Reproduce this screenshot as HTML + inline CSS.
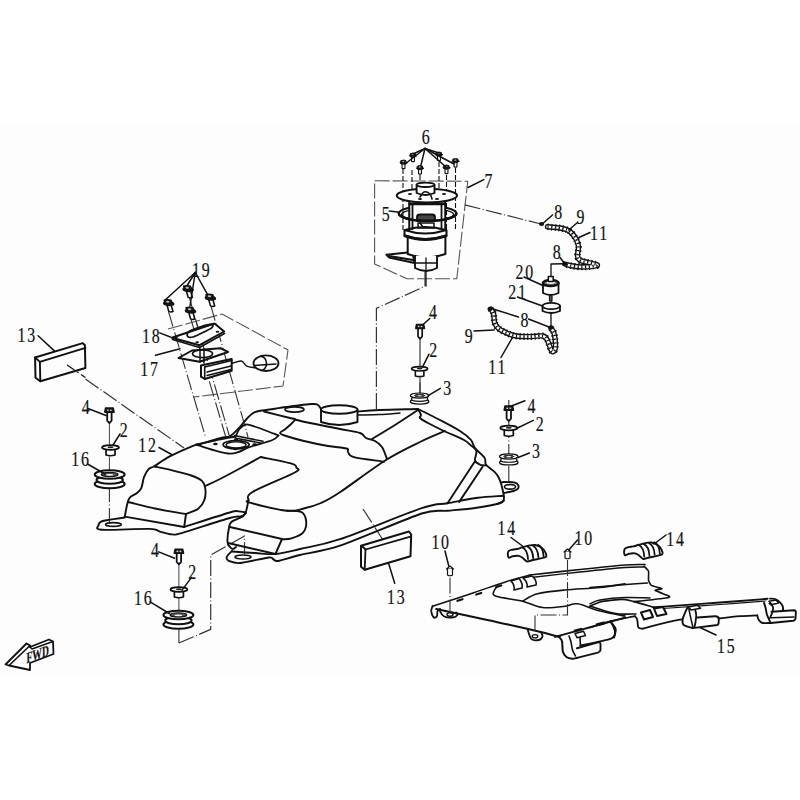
<!DOCTYPE html><html><head><meta charset="utf-8"><style>html,body{margin:0;padding:0;background:#fff;}svg{display:block;}text{font-family:"Liberation Serif",serif;fill:#111;stroke:#111;stroke-width:0.2px;}</style></head><body>
<svg width="800" height="800" viewBox="0 0 800 800">
<rect width="800" height="800" fill="#fff"/>
<rect x="0" y="125.5" width="800" height="548.5" fill="#fdfdfd"/>
<g fill="none" stroke="#111" stroke-linecap="round" stroke-linejoin="round">
<path d="M85.4,379 L184,448" stroke-width="1.2" stroke-dasharray="16 2.5 1 2.5" stroke-linecap="butt" stroke="#333"/>
<path d="M363,509 L383,540" stroke-width="1.2" stroke-dasharray="16 2.5 1 2.5" stroke-linecap="butt" stroke="#333"/>
<path d="M109.4,423 L109.4,445" stroke-width="1.0" stroke="#444"/>
<path d="M109.4,457 L109.4,470" stroke-width="1.0" stroke="#444"/>
<path d="M109.4,486 L109.4,522" stroke-width="1.1" stroke-dasharray="16 2.5 1 2.5" stroke-linecap="butt" stroke="#333"/>
<path d="M178.9,564.6 L178.9,587" stroke-width="1.0" stroke="#444"/>
<path d="M178.9,598.6 L178.9,611" stroke-width="1.0" stroke="#444"/>
<path d="M178.9,628 L178.9,643" stroke-width="1.1" stroke-dasharray="16 2.5 1 2.5" stroke-linecap="butt" stroke="#333"/>
<path d="M178.9,643 L210.7,629.4 L210.7,555 L244.5,536 L244.5,554" stroke-width="1.2" stroke-dasharray="16 2.5 1 2.5" stroke-linecap="butt" stroke="#333"/>
<path d="M508.8,400 L508.8,486" stroke-width="1.1" stroke-dasharray="16 2.5 1 2.5" stroke-linecap="butt" stroke="#333"/>
<path d="M376.4,409 L376.4,308.4 L425,286.2 L425,272" stroke-width="1.2" stroke-dasharray="16 2.5 1 2.5" stroke-linecap="butt" stroke="#333"/>
<path d="M420,383 L420,395" stroke-width="1.0" stroke="#444"/>
<path d="M374.6,180.8 L467.75,181.25 L456.8,278.7 L407,278.7 L374.6,264 L374.6,180.8" stroke-width="1.1" stroke-dasharray="15 3" stroke-linecap="butt" stroke="#555"/>
<path d="M464.75,204.9 L541,224" stroke-width="1.2" stroke-dasharray="16 2.5 1 2.5" stroke-linecap="butt" stroke="#333"/>
<path d="M168,329 L222,314 L288,350 L283,386 L194,397" stroke-width="1.1" stroke-dasharray="15 3" stroke-linecap="butt" stroke="#555"/>
<path d="M168.4,311.25 L205.8,438" stroke-width="1.1" stroke-dasharray="16 2.5 1 2.5" stroke-linecap="butt" stroke="#333"/>
<path d="M189.5,297.8 L200,335" stroke-width="1.1" stroke-dasharray="16 2.5 1 2.5" stroke-linecap="butt" stroke="#333"/>
<path d="M190.6,318 L225.5,436" stroke-width="1.1" stroke-dasharray="16 2.5 1 2.5" stroke-linecap="butt" stroke="#333"/>
<path d="M196,321 L230,438" stroke-width="1.1" stroke-dasharray="16 2.5 1 2.5" stroke-linecap="butt" stroke="#333"/>
<path d="M210.7,305.2 L248,437" stroke-width="1.1" stroke-dasharray="16 2.5 1 2.5" stroke-linecap="butt" stroke="#333"/>
<path d="M124.8,516.6 C125.2,514.4 126.5,506.7 127.4,503.5 C128.3,500.3 128.4,499.1 130.0,497.4 C131.6,495.6 135.1,494.6 137.0,493.0 C138.9,491.4 140.2,490.4 141.4,487.8 C142.6,485.1 142.8,480.3 144.0,477.2 C145.2,474.2 146.7,471.3 148.4,469.4 C150.2,467.5 150.9,468.2 154.5,466.0 C158.1,463.8 163.8,459.6 170.2,456.2 C176.7,452.9 188.0,447.8 193.0,445.8 C198.0,443.7 198.8,444.3 200.0,444.0" stroke-width="1.9" fill="none"/>
<path d="M154.5,466.5 C156.8,467.0 162.4,467.9 168.5,469.4 C174.6,470.9 185.7,473.6 191.2,475.5 C196.8,477.4 199.4,478.7 201.8,480.8 C204.1,482.8 204.8,484.5 205.2,487.8 C205.7,491.0 205.6,496.5 204.4,500.0 C203.2,503.5 201.3,506.4 198.2,508.8 C195.2,511.1 188.0,513.1 186.0,514.0" stroke-width="1.9" fill="none"/>
<path d="M128.0,502.0 C132.7,503.1 146.6,506.8 156.2,508.8 C165.9,510.8 181.0,513.1 186.0,514.0" stroke-width="1.9" fill="none"/>
<path d="M124.75,516.6 L184.2,527" stroke-width="1.9"/>
<path d="M186,514 L184.2,527" stroke-width="1.9"/>
<path d="M205.2,486.0 C207.7,484.8 213.5,482.3 220.0,479.0 C226.5,475.7 237.6,469.7 244.4,466.0 C251.2,462.3 258.0,458.5 260.7,457.0" stroke-width="1.9" fill="none"/>
<path d="M124.8,517.5 C121.1,518.1 107.3,519.7 102.9,521.0 C98.5,522.3 98.7,523.9 98.5,525.4 C98.3,526.9 93.5,529.2 102.0,529.8 C110.5,530.3 139.6,528.6 149.2,528.9 C158.9,529.2 156.2,530.7 160.0,531.6 C163.8,532.5 168.2,534.2 172.0,534.4 C175.8,534.6 172.9,535.5 182.5,532.8 C192.1,530.0 220.0,520.7 229.8,518.0 C239.5,515.3 238.3,517.2 241.0,516.4 C243.7,515.6 245.2,513.6 246.0,513.0" stroke-width="1.9" fill="none"/>
<ellipse cx="113.4" cy="524.5" rx="7.9" ry="1.9" stroke-width="1.6"/>
<path d="M184.2,527.0 C191.8,524.6 220.7,515.1 229.8,512.5 C238.8,509.9 236.1,511.4 238.8,511.4 C241.4,511.4 244.4,512.3 245.5,512.5" stroke-width="1.9" fill="none"/>
<path d="M260.7,457.0 C265.8,458.1 285.6,461.8 291.5,463.6 C297.4,465.4 295.8,466.1 296.4,467.6 C296.9,469.1 302.1,468.4 294.8,472.5 C287.5,476.6 260.2,487.4 252.5,492.0 C244.8,496.6 248.9,498.2 248.5,500.0 C248.1,501.8 243.6,500.8 250.0,502.6 C256.4,504.4 277.6,509.8 286.7,510.7 C295.8,511.6 298.8,509.6 304.5,508.3 C310.2,507.0 315.0,505.7 321.0,503.0 C327.0,500.3 329.5,499.2 340.3,492.0 C351.1,484.8 372.7,468.3 386.0,460.0 C399.3,451.7 410.2,446.8 420.0,442.0 C429.8,437.2 440.8,432.8 445.0,431.0" stroke-width="1.9" fill="none"/>
<path d="M248.5,500.0 C248.1,501.9 246.9,508.8 246.0,511.5 C245.1,514.2 245.2,514.6 242.8,516.4 C240.4,518.1 233.7,520.1 231.4,522.0 C229.1,523.9 229.7,524.5 229.0,527.8 C228.3,531.1 227.3,538.8 227.5,542.0 C227.7,545.2 229.1,545.8 230.0,547.0 C230.9,548.2 232.0,549.0 233.0,549.0 C234.0,549.0 235.5,547.3 236.0,547.0" stroke-width="1.9" fill="none"/>
<path d="M232.0,551.0 C231.5,551.5 228.7,554.1 228.0,555.0 C227.3,555.9 226.4,557.2 226.5,558.0 C226.6,558.8 227.2,560.3 229.0,561.0 C230.8,561.7 234.7,563.5 240.0,563.0 C245.3,562.5 264.6,558.0 269.0,557.5 C273.4,557.0 271.8,558.5 273.0,559.0 C274.2,559.5 274.4,561.5 278.0,561.0 C281.6,560.5 291.7,557.0 300.0,555.0 C308.3,553.0 323.8,551.2 340.0,545.7 C356.2,540.2 407.4,518.2 421.7,513.5 C436.0,508.8 440.4,511.5 447.5,510.8 C454.6,510.1 468.4,508.9 475.0,508.0 C481.6,507.1 493.1,505.0 497.0,504.0 C500.9,503.0 503.1,501.0 504.0,500.5" stroke-width="1.9" fill="none"/>
<path d="M229.8,527 L282,539 L275.5,554" stroke-width="1.9"/>
<path d="M228,543 L275.5,554" stroke-width="1.9"/>
<path d="M286.7,510.7 C289.1,510.9 298.1,510.2 301.3,512.0 C304.6,513.8 305.9,517.8 306.2,521.3 C306.5,524.8 305.4,529.9 303.0,532.7 C300.6,535.6 294.9,537.3 291.5,538.4 C288.1,539.5 284.1,539.1 282.6,539.2" stroke-width="1.9" fill="none"/>
<ellipse cx="243" cy="557" rx="8" ry="2" stroke-width="1.6"/>
<path d="M232.0,551.5 C235.8,551.8 247.8,552.6 255.0,553.0 C262.2,553.4 268.0,554.7 275.5,554.0 C283.0,553.3 289.2,551.5 300.0,549.0 C310.8,546.5 319.7,546.0 340.0,539.2 C360.3,532.4 403.8,514.2 421.7,508.2 C439.6,502.2 438.1,505.0 447.5,503.3 C456.9,501.6 468.5,499.1 477.8,497.8 C487.1,496.5 499.0,496.1 503.2,495.7" stroke-width="1.9" fill="none"/>
<path d="M200.0,444.0 C203.8,442.9 217.8,438.8 222.8,437.5 C227.8,436.2 227.3,437.9 230.0,436.3 C232.7,434.7 236.4,430.6 239.0,427.9 C241.6,425.2 243.1,422.6 245.8,420.0 C248.4,417.4 249.9,414.0 254.8,412.1 C259.6,410.2 269.8,409.6 275.0,408.8 C280.2,407.9 279.8,407.8 286.0,407.0 C292.2,406.2 306.7,404.3 312.0,404.0 C317.3,403.7 316.5,404.2 318.0,405.0 C319.5,405.8 320.5,408.3 321.0,409.0" stroke-width="1.9" fill="none"/>
<ellipse cx="294.5" cy="409.5" rx="9.5" ry="2.6" stroke-width="1.7"/>
<path d="M321,409.5 L321,422 Q339,428 357.5,422 L357.5,409.5" stroke-width="1.9" fill="#fdfdfd"/>
<ellipse cx="339.2" cy="409.5" rx="18.2" ry="4.2" stroke-width="1.9" fill="#fdfdfd"/>
<path d="M357.5,411.5 C361.2,411.2 369.9,410.4 380.0,410.0 C390.1,409.6 411.7,409.2 418.0,409.0" stroke-width="1.9" fill="none"/>
<path d="M357.5,415.0 C361.2,414.9 372.9,414.8 380.0,414.5 C387.1,414.2 396.7,413.2 400.0,413.0" stroke-width="1.5" fill="none"/>
<path d="M264.0,411.5 C268.3,412.6 284.8,416.7 290.0,418.0 C295.2,419.3 295.0,418.3 295.0,419.5 C295.0,420.7 291.8,423.2 290.0,425.0 C288.2,426.8 285.7,428.7 284.0,430.0 C282.3,431.3 279.7,432.0 280.0,433.0 C280.3,434.0 282.0,434.7 286.0,436.0 C290.0,437.3 297.0,439.3 304.0,441.0 C311.0,442.7 320.9,444.8 328.0,446.0 C335.1,447.2 343.2,447.5 346.5,448.5 C349.8,449.5 346.8,450.6 348.0,452.0 C349.2,453.4 348.0,455.6 354.0,457.2 C360.0,458.8 379.0,460.9 384.0,461.7" stroke-width="1.9" fill="none"/>
<path d="M295.0,419.5 C297.5,420.1 302.5,421.4 310.0,423.0 C317.5,424.6 331.7,427.3 340.0,429.0 C348.3,430.7 355.7,431.5 360.0,433.0 C364.3,434.5 363.5,436.7 366.0,438.0 C368.5,439.3 372.3,439.5 375.0,441.0 C377.7,442.5 380.0,444.0 382.0,447.0 C384.0,450.0 386.2,457.0 387.0,459.0" stroke-width="1.9" fill="none"/>
<path d="M418.0,410.0 C414.2,412.5 402.7,420.2 395.0,425.0 C387.3,429.8 375.8,436.7 372.0,439.0" stroke-width="1.9" fill="none"/>
<path d="M418.0,409.0 C421.3,410.7 431.0,415.3 438.0,419.0 C445.0,422.7 454.5,427.5 460.0,431.0 C465.5,434.5 468.5,437.1 471.0,440.0 C473.5,442.9 472.7,445.3 475.0,448.2 C477.3,451.2 482.8,455.1 484.6,457.9 C486.4,460.6 484.4,462.5 486.0,464.8 C487.6,467.0 492.2,469.6 494.3,471.6 C496.4,473.6 497.2,474.9 498.4,477.0 C499.5,479.1 500.4,481.4 501.2,484.0 C502.0,486.6 502.7,490.0 503.2,492.3 C503.7,494.6 504.1,496.2 504.0,497.8 C503.9,499.4 503.7,501.0 502.5,502.0 C501.3,503.0 497.9,503.7 497.0,504.0" stroke-width="1.9" fill="none"/>
<path d="M418.0,409.0 C418.5,410.0 420.7,413.5 421.0,415.0 C421.3,416.5 418.8,416.7 420.0,418.0 C421.2,419.3 424.0,420.8 428.0,423.0 C432.0,425.2 438.0,428.2 444.0,431.0 C450.0,433.8 459.5,437.6 464.0,440.0 C468.5,442.4 468.9,443.7 471.0,445.5 C473.1,447.3 475.7,448.5 476.4,451.0 C477.1,453.5 474.3,458.3 475.0,460.6 C475.7,462.9 478.7,463.9 480.5,464.8 C482.3,465.6 485.1,465.3 486.0,465.4" stroke-width="1.9" fill="none"/>
<path d="M475,461.3 L447.5,503.3" stroke-width="1.9"/>
<path d="M482.6,466.8 L459.2,501.9" stroke-width="1.9"/>
<path d="M501.2,482.6 C501.7,482.5 501.7,482.0 504.0,482.0 C506.3,482.0 512.6,482.0 515.0,482.6 C517.4,483.2 517.8,484.4 518.3,485.4 C518.8,486.4 518.5,487.9 517.7,488.8 C516.9,489.7 515.8,490.3 513.5,491.0 C511.2,491.7 505.6,492.7 504.0,493.0" stroke-width="1.9" fill="none"/>
<ellipse cx="510" cy="486.8" rx="5.5" ry="2.3" stroke-width="1.6"/>
<path d="M196.0,444.7 C199.2,444.0 208.4,441.9 215.0,440.5 C221.6,439.1 232.0,437.2 235.4,436.5" stroke-width="1.8" fill="none"/>
<path d="M278.5,435.5 C277.5,436.2 277.2,438.1 272.5,440.0 C267.8,441.9 257.1,444.7 250.0,447.0 C242.9,449.3 238.9,454.0 229.9,453.6 C220.9,453.2 201.7,446.2 196.0,444.7" stroke-width="1.8" fill="none"/>
<path d="M235.4,436.5 C236.2,435.2 238.2,430.5 240.0,428.5 C241.8,426.5 243.3,424.8 246.0,424.5 C248.7,424.2 252.5,425.9 256.0,427.0 C259.5,428.1 263.2,429.6 267.0,431.0 C270.8,432.4 276.6,434.8 278.5,435.5" stroke-width="1.8" fill="none"/>
<path d="M234.5,435.5 L263,441.3" stroke-width="1.5"/>
<path d="M235,438 L261.5,443.2" stroke-width="1.5"/>
<ellipse cx="236.1" cy="444.7" rx="13" ry="4.1" stroke-width="1.7"/>
<ellipse cx="236.1" cy="444.9" rx="10" ry="3" stroke-width="1.4"/>
<ellipse cx="215.4" cy="444" rx="2.3" ry="1.2" fill="#111" stroke="none"/>
<ellipse cx="254.6" cy="444.5" rx="2.3" ry="1.2" fill="#111" stroke="none"/>
<ellipse cx="235.4" cy="449" rx="2.3" ry="1.2" fill="#111" stroke="none"/>
<ellipse cx="236" cy="440" rx="2.3" ry="1.2" fill="#111" stroke="none"/>
<g transform="translate(109.4,407.5) scale(1.0)">
<path d="M-2.2,4.6 L-2.2,13.2 L0,15.6 L2.2,13.2 L2.2,4.6" fill="#fdfdfd" stroke-width="1.8"/>
<path d="M-3.8,0.6 L3.8,0.6 L4.6,4.6 L-4.6,4.6 Z" fill="#222" stroke-width="1.6"/>
<ellipse cx="-1.5" cy="2.7" rx="0.9" ry="0.8" fill="#ddd" stroke="none"/>
<ellipse cx="1.5" cy="2.7" rx="0.9" ry="0.8" fill="#ddd" stroke="none"/>
</g>
<g stroke-width="1.70">
<path d="M106.0,448.5 L106.0,455.0 Q110.5,456.5 115.0,455.0 L115.0,448.5" fill="#fdfdfd"/>
<ellipse cx="110.5" cy="447.5" rx="8.5" ry="2.3" fill="#fdfdfd"/>
<ellipse cx="110.5" cy="447.2" rx="3.0" ry="1.0" fill="#222" stroke="none"/>
</g>
<g stroke-width="2.00">
<ellipse cx="109.7" cy="484.0" rx="15.0" ry="4.2" fill="#fdfdfd"/>
<ellipse cx="109.7" cy="480.0" rx="13.2" ry="3.7800000000000002" fill="#fdfdfd"/>
<ellipse cx="109.7" cy="474.5" rx="15.0" ry="4.2" fill="#fdfdfd"/>
<ellipse cx="109.7" cy="474.5" rx="8.25" ry="2.1" fill="#555" stroke-width="1.40"/>
<ellipse cx="109.7" cy="474.8" rx="3.75" ry="0.924" fill="#fdfdfd" stroke="none"/>
</g>
<g transform="translate(508.8,405.5) scale(1.0)">
<path d="M-2.2,4.6 L-2.2,13.2 L0,15.6 L2.2,13.2 L2.2,4.6" fill="#fdfdfd" stroke-width="1.8"/>
<path d="M-3.8,0.6 L3.8,0.6 L4.6,4.6 L-4.6,4.6 Z" fill="#222" stroke-width="1.6"/>
<ellipse cx="-1.5" cy="2.7" rx="0.9" ry="0.8" fill="#ddd" stroke="none"/>
<ellipse cx="1.5" cy="2.7" rx="0.9" ry="0.8" fill="#ddd" stroke="none"/>
</g>
<g stroke-width="1.70">
<path d="M504.3,429 L504.3,435.5 Q508.8,437.0 513.3,435.5 L513.3,429" fill="#fdfdfd"/>
<ellipse cx="508.8" cy="428" rx="8.5" ry="2.3" fill="#fdfdfd"/>
<ellipse cx="508.8" cy="427.7" rx="3.0" ry="1.0" fill="#222" stroke="none"/>
</g>
<g stroke-width="1.24">
<ellipse cx="508.8" cy="462.39" rx="9.3" ry="2.604" fill="#fdfdfd"/>
<ellipse cx="508.8" cy="459.91" rx="8.184000000000001" ry="2.3436000000000003" fill="#fdfdfd"/>
<ellipse cx="508.8" cy="456.5" rx="9.3" ry="2.604" fill="#fdfdfd"/>
<ellipse cx="508.8" cy="456.5" rx="5.115000000000001" ry="1.302" fill="#555" stroke-width="0.87"/>
<ellipse cx="508.8" cy="456.686" rx="2.325" ry="0.5728800000000001" fill="#fdfdfd" stroke="none"/>
</g>
<g transform="translate(420.1,324) scale(0.95)">
<path d="M-2.2,4.6 L-2.2,13.2 L0,15.6 L2.2,13.2 L2.2,4.6" fill="#fdfdfd" stroke-width="1.8"/>
<path d="M-3.8,0.6 L3.8,0.6 L4.6,4.6 L-4.6,4.6 Z" fill="#222" stroke-width="1.6"/>
<ellipse cx="-1.5" cy="2.7" rx="0.9" ry="0.8" fill="#ddd" stroke="none"/>
<ellipse cx="1.5" cy="2.7" rx="0.9" ry="0.8" fill="#ddd" stroke="none"/>
</g>
<g stroke-width="1.61">
<path d="M415.32500000000005,369.8 L415.32500000000005,375.925 Q419.6,377.35 423.875,375.925 L423.875,369.8" fill="#fdfdfd"/>
<ellipse cx="419.6" cy="368.8" rx="8.075" ry="2.1849999999999996" fill="#fdfdfd"/>
<ellipse cx="419.6" cy="368.5" rx="2.8499999999999996" ry="0.95" fill="#222" stroke="none"/>
</g>
<g stroke-width="1.24">
<ellipse cx="419.6" cy="401.49" rx="9.3" ry="2.604" fill="#fdfdfd"/>
<ellipse cx="419.6" cy="399.01000000000005" rx="8.184000000000001" ry="2.3436000000000003" fill="#fdfdfd"/>
<ellipse cx="419.6" cy="395.6" rx="9.3" ry="2.604" fill="#fdfdfd"/>
<ellipse cx="419.6" cy="395.6" rx="5.115000000000001" ry="1.302" fill="#555" stroke-width="0.87"/>
<ellipse cx="419.6" cy="395.786" rx="2.325" ry="0.5728800000000001" fill="#fdfdfd" stroke="none"/>
</g>
<g transform="translate(178.9,548.7) scale(1.0)">
<path d="M-2.2,4.6 L-2.2,13.2 L0,15.6 L2.2,13.2 L2.2,4.6" fill="#fdfdfd" stroke-width="1.8"/>
<path d="M-3.8,0.6 L3.8,0.6 L4.6,4.6 L-4.6,4.6 Z" fill="#222" stroke-width="1.6"/>
<ellipse cx="-1.5" cy="2.7" rx="0.9" ry="0.8" fill="#ddd" stroke="none"/>
<ellipse cx="1.5" cy="2.7" rx="0.9" ry="0.8" fill="#ddd" stroke="none"/>
</g>
<g stroke-width="1.70">
<path d="M174.4,590.5 L174.4,597.0 Q178.9,598.5 183.4,597.0 L183.4,590.5" fill="#fdfdfd"/>
<ellipse cx="178.9" cy="589.5" rx="8.5" ry="2.3" fill="#fdfdfd"/>
<ellipse cx="178.9" cy="589.2" rx="3.0" ry="1.0" fill="#222" stroke="none"/>
</g>
<g stroke-width="2.00">
<ellipse cx="178.4" cy="624.5" rx="15.0" ry="4.2" fill="#fdfdfd"/>
<ellipse cx="178.4" cy="620.5" rx="13.2" ry="3.7800000000000002" fill="#fdfdfd"/>
<ellipse cx="178.4" cy="615" rx="15.0" ry="4.2" fill="#fdfdfd"/>
<ellipse cx="178.4" cy="615" rx="8.25" ry="2.1" fill="#555" stroke-width="1.40"/>
<ellipse cx="178.4" cy="615.3" rx="3.75" ry="0.924" fill="#fdfdfd" stroke="none"/>
</g>
<path d="M35.06,357.56 L82.75,343.1 L84.9,345.3 L85.4,368.06 L40.3,381.2 L35.5,377.7 Z" stroke-width="2" fill="#fdfdfd"/>
<path d="M35.06,357.56 L39.9,361.9 L85.4,347.9" stroke-width="1.9"/>
<path d="M39.9,361.9 L40.3,381.2" stroke-width="1.9"/>
<path d="M67,365 L85.4,377.5" stroke-width="1.2" stroke-dasharray="9 3 2 3" stroke-linecap="butt"/>
<path d="M361,545.7 L409,531.5 L411.2,534.5 L410.5,556.2 L364.7,569.7 L361,566.7 Z" stroke-width="2" fill="#fdfdfd"/>
<path d="M362.5,546.5 L365.5,549.5 L410.5,536.7" stroke-width="1.8"/>
<path d="M365.5,549.5 L364.7,569.7" stroke-width="1.8"/>
<g transform="translate(167.5,299.5) skewX(16) scale(0.95)" stroke-width="1.5">
<path d="M-2.2,5.5 L-2.2,12.5 Q0,13.8 2.2,12.5 L2.2,5.5" fill="#fdfdfd" stroke-width="1.7"/>
<ellipse cx="0" cy="4.2" rx="5.3" ry="2.1" fill="#1a1a1a"/>
<path d="M-3.6,0.8 Q0,-0.6 3.6,0.8 L3.8,3.8 Q0,5 -3.8,3.8 Z" fill="#1a1a1a"/>
<ellipse cx="-0.4" cy="2.4" rx="1.8" ry="1" fill="#bbb" stroke="none"/>
</g>
<g transform="translate(186.9,285.5) skewX(16) scale(0.95)" stroke-width="1.5">
<path d="M-2.2,5.5 L-2.2,12.5 Q0,13.8 2.2,12.5 L2.2,5.5" fill="#fdfdfd" stroke-width="1.7"/>
<ellipse cx="0" cy="4.2" rx="5.3" ry="2.1" fill="#1a1a1a"/>
<path d="M-3.6,0.8 Q0,-0.6 3.6,0.8 L3.8,3.8 Q0,5 -3.8,3.8 Z" fill="#1a1a1a"/>
<ellipse cx="-0.4" cy="2.4" rx="1.8" ry="1" fill="#bbb" stroke="none"/>
</g>
<g transform="translate(209.2,294) skewX(16) scale(0.95)" stroke-width="1.5">
<path d="M-2.2,5.5 L-2.2,12.5 Q0,13.8 2.2,12.5 L2.2,5.5" fill="#fdfdfd" stroke-width="1.7"/>
<ellipse cx="0" cy="4.2" rx="5.3" ry="2.1" fill="#1a1a1a"/>
<path d="M-3.6,0.8 Q0,-0.6 3.6,0.8 L3.8,3.8 Q0,5 -3.8,3.8 Z" fill="#1a1a1a"/>
<ellipse cx="-0.4" cy="2.4" rx="1.8" ry="1" fill="#bbb" stroke="none"/>
</g>
<g transform="translate(189.3,307) skewX(16) scale(0.95)" stroke-width="1.5">
<path d="M-2.2,5.5 L-2.2,12.5 Q0,13.8 2.2,12.5 L2.2,5.5" fill="#fdfdfd" stroke-width="1.7"/>
<ellipse cx="0" cy="4.2" rx="5.3" ry="2.1" fill="#1a1a1a"/>
<path d="M-3.6,0.8 Q0,-0.6 3.6,0.8 L3.8,3.8 Q0,5 -3.8,3.8 Z" fill="#1a1a1a"/>
<ellipse cx="-0.4" cy="2.4" rx="1.8" ry="1" fill="#bbb" stroke="none"/>
</g>
<path d="M171.75,337.7 L214.5,323.5 L224.2,331.5 L199.5,345.2 Z" stroke-width="2" fill="#fdfdfd"/>
<path d="M172.5,339.5 L199.5,347.5 L224.5,333.5" stroke-width="1.5"/>
<path d="M187.5,336.2 C186.8,335.3 186.9,333.0 189.0,331.5 C191.1,330.0 196.2,328.2 200.0,327.0 C203.8,325.8 209.5,324.1 211.5,324.2 C213.5,324.3 213.1,326.3 212.0,327.5 C210.9,328.7 208.2,329.9 205.0,331.5 C201.8,333.1 195.9,336.2 193.0,337.0 C190.1,337.8 188.2,337.1 187.5,336.2 Z" stroke-width="1.8" fill="none"/>
<ellipse cx="176.2" cy="337" rx="1.8" ry="1" fill="#111" stroke="none"/>
<ellipse cx="217.5" cy="331.7" rx="1.8" ry="1" fill="#111" stroke="none"/>
<ellipse cx="197.2" cy="342.2" rx="1.8" ry="1" fill="#111" stroke="none"/>
<path d="M178.5,358 L192,350.5 L220.5,348.2 L228,352 L199.5,361.7 Z" stroke-width="2" fill="#fdfdfd"/>
<ellipse cx="202.5" cy="353.8" rx="10" ry="3.8" stroke-width="1.6"/>
<path d="M200,349 L200,362" stroke-width="1.5"/>
<path d="M204,349 L204,362" stroke-width="1.5"/>
<path d="M201,365.5 L231.7,359 L231.7,370.7 L204.7,379 L201,376.7 Z" stroke-width="2" fill="#fdfdfd"/>
<path d="M204.7,367 L231.7,360.5" stroke-width="1.5"/>
<path d="M204.7,367 L204.7,379" stroke-width="1.6"/>
<path d="M207,372 L231,366" stroke-width="1.4"/>
<path d="M207,375.5 L231,369.5" stroke-width="1.4"/>
<path d="M232.5,363.2 C234.0,362.8 239.1,360.5 241.5,361.0 C243.9,361.5 244.4,365.1 246.7,366.2 C248.9,367.3 253.6,367.4 255.0,367.7" stroke-width="1.4" fill="none"/>
<ellipse cx="266" cy="363.2" rx="12.5" ry="7.8" stroke-width="1.8" fill="#fdfdfd"/>
<path d="M261,356.5 A5.5,7 0 0 1 261,370.5" stroke-width="1.6"/>
<path d="M254,365.5 L276,364" stroke-width="1.5"/>
<g transform="translate(403.5,160.0) skewX(0) scale(0.66)" stroke-width="1.5">
<path d="M-2.2,5.5 L-2.2,12.5 Q0,13.8 2.2,12.5 L2.2,5.5" fill="#fdfdfd" stroke-width="1.7"/>
<ellipse cx="0" cy="4.2" rx="5.3" ry="2.1" fill="#1a1a1a"/>
<path d="M-3.6,0.8 Q0,-0.6 3.6,0.8 L3.8,3.8 Q0,5 -3.8,3.8 Z" fill="#1a1a1a"/>
<ellipse cx="-0.4" cy="2.4" rx="1.8" ry="1" fill="#bbb" stroke="none"/>
</g>
<g transform="translate(413,153.0) skewX(0) scale(0.66)" stroke-width="1.5">
<path d="M-2.2,5.5 L-2.2,12.5 Q0,13.8 2.2,12.5 L2.2,5.5" fill="#fdfdfd" stroke-width="1.7"/>
<ellipse cx="0" cy="4.2" rx="5.3" ry="2.1" fill="#1a1a1a"/>
<path d="M-3.6,0.8 Q0,-0.6 3.6,0.8 L3.8,3.8 Q0,5 -3.8,3.8 Z" fill="#1a1a1a"/>
<ellipse cx="-0.4" cy="2.4" rx="1.8" ry="1" fill="#bbb" stroke="none"/>
</g>
<g transform="translate(420,165.5) skewX(0) scale(0.66)" stroke-width="1.5">
<path d="M-2.2,5.5 L-2.2,12.5 Q0,13.8 2.2,12.5 L2.2,5.5" fill="#fdfdfd" stroke-width="1.7"/>
<ellipse cx="0" cy="4.2" rx="5.3" ry="2.1" fill="#1a1a1a"/>
<path d="M-3.6,0.8 Q0,-0.6 3.6,0.8 L3.8,3.8 Q0,5 -3.8,3.8 Z" fill="#1a1a1a"/>
<ellipse cx="-0.4" cy="2.4" rx="1.8" ry="1" fill="#bbb" stroke="none"/>
</g>
<g transform="translate(439,152.0) skewX(0) scale(0.66)" stroke-width="1.5">
<path d="M-2.2,5.5 L-2.2,12.5 Q0,13.8 2.2,12.5 L2.2,5.5" fill="#fdfdfd" stroke-width="1.7"/>
<ellipse cx="0" cy="4.2" rx="5.3" ry="2.1" fill="#1a1a1a"/>
<path d="M-3.6,0.8 Q0,-0.6 3.6,0.8 L3.8,3.8 Q0,5 -3.8,3.8 Z" fill="#1a1a1a"/>
<ellipse cx="-0.4" cy="2.4" rx="1.8" ry="1" fill="#bbb" stroke="none"/>
</g>
<g transform="translate(446.5,165.0) skewX(0) scale(0.66)" stroke-width="1.5">
<path d="M-2.2,5.5 L-2.2,12.5 Q0,13.8 2.2,12.5 L2.2,5.5" fill="#fdfdfd" stroke-width="1.7"/>
<ellipse cx="0" cy="4.2" rx="5.3" ry="2.1" fill="#1a1a1a"/>
<path d="M-3.6,0.8 Q0,-0.6 3.6,0.8 L3.8,3.8 Q0,5 -3.8,3.8 Z" fill="#1a1a1a"/>
<ellipse cx="-0.4" cy="2.4" rx="1.8" ry="1" fill="#bbb" stroke="none"/>
</g>
<g transform="translate(455.5,158.5) skewX(0) scale(0.66)" stroke-width="1.5">
<path d="M-2.2,5.5 L-2.2,12.5 Q0,13.8 2.2,12.5 L2.2,5.5" fill="#fdfdfd" stroke-width="1.7"/>
<ellipse cx="0" cy="4.2" rx="5.3" ry="2.1" fill="#1a1a1a"/>
<path d="M-3.6,0.8 Q0,-0.6 3.6,0.8 L3.8,3.8 Q0,5 -3.8,3.8 Z" fill="#1a1a1a"/>
<ellipse cx="-0.4" cy="2.4" rx="1.8" ry="1" fill="#bbb" stroke="none"/>
</g>
<path d="M403,169 L403,230" stroke-width="1.1" stroke-dasharray="5 2" stroke-linecap="butt"/>
<path d="M412,170 L412,230" stroke-width="1.1" stroke-dasharray="5 2" stroke-linecap="butt"/>
<path d="M420,175 L420,190" stroke-width="1.1" stroke-dasharray="5 2" stroke-linecap="butt"/>
<path d="M439,162 L439,230" stroke-width="1.1" stroke-dasharray="5 2" stroke-linecap="butt"/>
<path d="M446.5,175 L446.5,230" stroke-width="1.1" stroke-dasharray="5 2" stroke-linecap="butt"/>
<path d="M455.5,168 L455.5,230" stroke-width="1.1" stroke-dasharray="5 2" stroke-linecap="butt"/>
<path d="M386.4,254.7 L412.5,252 L414.5,263 L389,257.4 Z" stroke-width="2" fill="#fdfdfd"/>
<path d="M389,256 L413,260" stroke-width="2.2"/>
<path d="M407.7,236 L407.7,254 Q426,261 445.4,254 L445.4,236 Z" stroke-width="2" fill="#fdfdfd"/>
<path d="M415,256 L415,268 Q426,274 437,268 L437,256" stroke-width="1.9" fill="#fdfdfd"/>
<path d="M416,263 L436,263" stroke-width="1.4"/>
<path d="M426,258 L426,286" stroke-width="1.3"/>
<ellipse cx="427.6" cy="213.5" rx="28.8" ry="7.5" stroke-width="2.2"/>
<ellipse cx="427.6" cy="214.5" rx="26" ry="5.8" stroke-width="1.3"/>
<rect x="409.25" y="201" width="36" height="28.5" fill="#fdfdfd" stroke="none"/>
<path d="M409.25,201 L409.25,230 M445.25,199 L445.25,230" stroke-width="2"/>
<path d="M409.5,204 L445,204" stroke-width="2.4"/>
<path d="M412.5,204 L412.5,229" stroke-width="1.8"/>
<path d="M441.5,204 L441.5,229" stroke-width="1.8"/>
<path d="M417,217 Q417,214.5 420,214.5 L432,214.5 Q435,214.5 435,217 L435,221 L417,221 Z" stroke-width="1.8" fill="#444"/>
<path d="M418,223 L434,223 L434,228 L418,228 Z" stroke-width="1.5" fill="#fdfdfd"/>
<path d="M420,223 L423,227" stroke-width="1.6"/>
<path d="M398.8,213.5 A28.8,7.5 0 0 0 456.4,213.5" stroke-width="2.3"/>
<path d="M401.6,214.5 A26,5.8 0 0 0 453.6,214.5" stroke-width="1.4"/>
<path d="M404.5,230 Q425,237 446.5,230 L446.5,235.5 Q425,243 404.5,235.5 Z" stroke-width="2" fill="#fdfdfd"/>
<path d="M405,235.8 Q425,243 446,235.8" stroke-width="3"/>
<path d="M405,230 Q425,224 446,230" stroke-width="2"/>
<ellipse cx="426.9" cy="195.6" rx="30.2" ry="6.9" stroke-width="2" fill="#fdfdfd"/>
<ellipse cx="410" cy="194" rx="2" ry="1.1" fill="#111" stroke="none"/>
<ellipse cx="444" cy="194" rx="2" ry="1.1" fill="#111" stroke="none"/>
<ellipse cx="420" cy="199" rx="2" ry="1.1" fill="#111" stroke="none"/>
<ellipse cx="437" cy="199" rx="2" ry="1.1" fill="#111" stroke="none"/>
<path d="M416.6,185 L416.6,193 Q425.5,197 434.5,193 L434.5,185" stroke-width="1.9" fill="#fdfdfd"/>
<ellipse cx="425.5" cy="184.8" rx="9" ry="2.2" stroke-width="1.8" fill="#fdfdfd"/>
<path d="M420.0,197.0 C420.7,196.2 422.3,192.5 424.0,192.0 C425.7,191.5 428.7,192.8 430.0,194.0 C431.3,195.2 431.7,198.2 432.0,199.0" stroke-width="1.6" fill="none"/>
<path d="M547.5,226.8 C550.0,227.0 558.8,227.7 562.5,228.5 C566.2,229.3 567.8,229.8 570.0,231.5 C572.2,233.2 574.6,236.5 576.0,239.0 C577.4,241.5 578.2,243.7 578.5,246.5 C578.8,249.3 577.2,253.7 577.5,256.0 C577.8,258.3 578.0,259.2 580.5,260.5 C583.0,261.8 589.8,262.7 592.5,263.5 C595.2,264.3 598.8,264.9 597.0,265.5 C595.2,266.1 586.5,267.0 582.0,267.0 C577.5,267.0 572.9,266.0 570.0,265.5 C567.1,265.0 565.6,264.2 564.8,264.0" stroke-width="6.6000000000000005" stroke="#111" stroke-dasharray="1.3 2.4" stroke-linecap="butt"/>
<path d="M547.5,226.8 C550.0,227.0 558.8,227.7 562.5,228.5 C566.2,229.3 567.8,229.8 570.0,231.5 C572.2,233.2 574.6,236.5 576.0,239.0 C577.4,241.5 578.2,243.7 578.5,246.5 C578.8,249.3 577.2,253.7 577.5,256.0 C577.8,258.3 578.0,259.2 580.5,260.5 C583.0,261.8 589.8,262.7 592.5,263.5 C595.2,264.3 598.8,264.9 597.0,265.5 C595.2,266.1 586.5,267.0 582.0,267.0 C577.5,267.0 572.9,266.0 570.0,265.5 C567.1,265.0 565.6,264.2 564.8,264.0" stroke-width="5.4" stroke="#111"/>
<path d="M547.5,226.8 C550.0,227.0 558.8,227.7 562.5,228.5 C566.2,229.3 567.8,229.8 570.0,231.5 C572.2,233.2 574.6,236.5 576.0,239.0 C577.4,241.5 578.2,243.7 578.5,246.5 C578.8,249.3 577.2,253.7 577.5,256.0 C577.8,258.3 578.0,259.2 580.5,260.5 C583.0,261.8 589.8,262.7 592.5,263.5 C595.2,264.3 598.8,264.9 597.0,265.5 C595.2,266.1 586.5,267.0 582.0,267.0 C577.5,267.0 572.9,266.0 570.0,265.5 C567.1,265.0 565.6,264.2 564.8,264.0" stroke-width="2.6000000000000005" stroke="#fdfdfd"/>
<path d="M547.5,226.8 C550.0,227.0 558.8,227.7 562.5,228.5 C566.2,229.3 567.8,229.8 570.0,231.5 C572.2,233.2 574.6,236.5 576.0,239.0 C577.4,241.5 578.2,243.7 578.5,246.5 C578.8,249.3 577.2,253.7 577.5,256.0 C577.8,258.3 578.0,259.2 580.5,260.5 C583.0,261.8 589.8,262.7 592.5,263.5 C595.2,264.3 598.8,264.9 597.0,265.5 C595.2,266.1 586.5,267.0 582.0,267.0 C577.5,267.0 572.9,266.0 570.0,265.5 C567.1,265.0 565.6,264.2 564.8,264.0" stroke-width="2.6000000000000005" stroke="#111" stroke-dasharray="1.3 2.4" stroke-linecap="butt"/>
<path d="M490.7,309.0 C491.2,309.8 492.9,311.2 493.5,313.5 C494.1,315.8 493.9,320.1 494.6,322.5 C495.4,324.9 496.1,326.3 498.0,328.0 C499.9,329.7 502.9,331.3 505.9,332.6 C508.9,333.9 511.9,335.3 516.0,336.0 C520.1,336.7 526.1,336.6 530.6,336.6 C535.1,336.6 540.2,335.4 543.0,336.0 C545.8,336.6 546.2,338.2 547.5,340.5 C548.8,342.8 550.0,347.6 550.9,349.5 C551.8,351.4 552.4,352.1 553.1,351.7 C553.9,351.3 555.2,350.2 555.4,347.2 C555.6,344.3 555.0,337.0 554.2,333.8 C553.5,330.5 551.5,329.0 550.9,328.0" stroke-width="6.6000000000000005" stroke="#111" stroke-dasharray="1.3 2.4" stroke-linecap="butt"/>
<path d="M490.7,309.0 C491.2,309.8 492.9,311.2 493.5,313.5 C494.1,315.8 493.9,320.1 494.6,322.5 C495.4,324.9 496.1,326.3 498.0,328.0 C499.9,329.7 502.9,331.3 505.9,332.6 C508.9,333.9 511.9,335.3 516.0,336.0 C520.1,336.7 526.1,336.6 530.6,336.6 C535.1,336.6 540.2,335.4 543.0,336.0 C545.8,336.6 546.2,338.2 547.5,340.5 C548.8,342.8 550.0,347.6 550.9,349.5 C551.8,351.4 552.4,352.1 553.1,351.7 C553.9,351.3 555.2,350.2 555.4,347.2 C555.6,344.3 555.0,337.0 554.2,333.8 C553.5,330.5 551.5,329.0 550.9,328.0" stroke-width="5.4" stroke="#111"/>
<path d="M490.7,309.0 C491.2,309.8 492.9,311.2 493.5,313.5 C494.1,315.8 493.9,320.1 494.6,322.5 C495.4,324.9 496.1,326.3 498.0,328.0 C499.9,329.7 502.9,331.3 505.9,332.6 C508.9,333.9 511.9,335.3 516.0,336.0 C520.1,336.7 526.1,336.6 530.6,336.6 C535.1,336.6 540.2,335.4 543.0,336.0 C545.8,336.6 546.2,338.2 547.5,340.5 C548.8,342.8 550.0,347.6 550.9,349.5 C551.8,351.4 552.4,352.1 553.1,351.7 C553.9,351.3 555.2,350.2 555.4,347.2 C555.6,344.3 555.0,337.0 554.2,333.8 C553.5,330.5 551.5,329.0 550.9,328.0" stroke-width="2.6000000000000005" stroke="#fdfdfd"/>
<path d="M490.7,309.0 C491.2,309.8 492.9,311.2 493.5,313.5 C494.1,315.8 493.9,320.1 494.6,322.5 C495.4,324.9 496.1,326.3 498.0,328.0 C499.9,329.7 502.9,331.3 505.9,332.6 C508.9,333.9 511.9,335.3 516.0,336.0 C520.1,336.7 526.1,336.6 530.6,336.6 C535.1,336.6 540.2,335.4 543.0,336.0 C545.8,336.6 546.2,338.2 547.5,340.5 C548.8,342.8 550.0,347.6 550.9,349.5 C551.8,351.4 552.4,352.1 553.1,351.7 C553.9,351.3 555.2,350.2 555.4,347.2 C555.6,344.3 555.0,337.0 554.2,333.8 C553.5,330.5 551.5,329.0 550.9,328.0" stroke-width="2.6000000000000005" stroke="#111" stroke-dasharray="1.3 2.4" stroke-linecap="butt"/>
<ellipse cx="541.5" cy="224" rx="2.6" ry="2" fill="#111" stroke="none"/>
<ellipse cx="565" cy="264" rx="2.6" ry="2" fill="#111" stroke="none"/>
<ellipse cx="490" cy="309" rx="2.6" ry="2" fill="#111" stroke="none"/>
<ellipse cx="551" cy="327.5" rx="2.6" ry="2" fill="#111" stroke="none"/>
<path d="M563.75,263.75 L551,264 L551,276" stroke-width="1.3"/>
<path d="M551,295 L551,302" stroke-width="1.3"/>
<path d="M551,312.5 L551,327" stroke-width="1.3"/>
<path d="M420,340 L420,366" stroke-width="1.0"/>
<path d="M420,378 L420,393" stroke-width="1.0"/>
<path d="M543,283 L543,293 Q550.5,297 558.5,293 L558.5,283" stroke-width="1.8" fill="#fdfdfd"/>
<ellipse cx="550.75" cy="283" rx="7.8" ry="3" stroke-width="2.6" fill="#888"/>
<ellipse cx="550.75" cy="282.6" rx="4" ry="1.4" fill="#fdfdfd" stroke="none"/>
<path d="M548.3,276.5 L548.3,281.5 L553.2,281.5 L553.2,276.5 Z" stroke-width="1.5" fill="#fdfdfd"/>
<path d="M549.5,296 L549.5,301 L552,301 L552,296" stroke-width="1.2"/>
<path d="M542.5,306 L542.5,311 Q551.25,315 560,311 L560,306" stroke-width="1.8" fill="#fdfdfd"/>
<ellipse cx="551.25" cy="306" rx="8.75" ry="3.2" stroke-width="1.8" fill="#fdfdfd"/>
<g stroke-width="1.2">
<path d="M446.5,569 L450,566 L453.5,569 Z" fill="#fdfdfd"/>
<path d="M447.5,569 L447.5,575 Q450,576.5 452.5,575 L452.5,569" fill="#fdfdfd"/>
</g>
<g stroke-width="1.2">
<path d="M564.0,552 L567.5,549 L571.0,552 Z" fill="#fdfdfd"/>
<path d="M565.0,552 L565.0,558 Q567.5,559.5 570.0,558 L570.0,552" fill="#fdfdfd"/>
</g>
<path d="M508.2,551.8 C508.6,551.1 510.1,550.2 511.2,549.9 C512.4,549.5 516.7,549.1 518.0,548.8 C519.3,548.4 521.1,547.6 522.5,547.2 C523.9,546.9 528.5,545.7 530.0,545.4 C531.5,545.1 533.9,544.7 535.2,545.0 C536.6,545.3 540.8,547.1 542.0,548.0 C543.2,548.9 545.0,551.5 545.4,552.5 C545.8,553.5 547.2,556.1 545.8,557.0 C544.3,557.9 535.2,559.5 533.0,560.0 C530.8,560.5 528.2,561.8 527.0,561.5 C525.8,561.2 523.5,558.4 522.5,557.8 C521.5,557.1 519.9,556.1 518.8,555.9 C517.6,555.7 513.9,556.0 512.8,556.2 C511.6,556.5 509.6,557.8 509.0,557.8 C508.4,557.7 508.0,556.2 507.9,555.5 C507.8,554.8 507.9,552.4 508.2,551.8 Z" stroke-width="1.9" fill="#fff"/>
<path d="M522.5,547.5 Q527.5,550.0 528.0,559.0" stroke-width="1.8"/>
<path d="M527.7,546.6 Q532.7,549.1 533.2,558.1" stroke-width="1.8"/>
<path d="M532.9,545.7 Q537.9,548.2 538.4,557.2" stroke-width="1.8"/>
<path d="M538.1,544.8 Q543.1,547.3 543.6,556.3" stroke-width="1.8"/>
<path d="M624.5,549.2 C624.9,548.6 626.4,547.8 627.5,547.4 C628.6,547.0 632.9,546.6 634.2,546.2 C635.6,545.9 637.4,545.1 638.8,544.8 C640.1,544.4 644.8,543.2 646.2,542.9 C647.7,542.6 650.1,542.2 651.5,542.5 C652.9,542.8 657.1,544.6 658.2,545.5 C659.4,546.4 661.2,549.0 661.6,550.0 C662.1,551.0 663.4,553.6 662.0,554.5 C660.6,555.4 651.4,557.0 649.2,557.5 C647.1,558.0 644.5,559.3 643.2,559.0 C642.0,558.7 639.7,555.9 638.8,555.2 C637.8,554.6 636.1,553.6 635.0,553.4 C633.9,553.2 630.1,553.5 629.0,553.8 C627.9,554.0 625.8,555.3 625.2,555.2 C624.7,555.2 624.2,553.7 624.1,553.0 C624.1,552.3 624.1,549.9 624.5,549.2 Z" stroke-width="1.9" fill="#fff"/>
<path d="M638.75,545.0 Q643.75,547.5 644.25,556.5" stroke-width="1.8"/>
<path d="M643.95,544.1 Q648.95,546.6 649.45,555.6" stroke-width="1.8"/>
<path d="M649.15,543.2 Q654.15,545.7 654.65,554.7" stroke-width="1.8"/>
<path d="M654.35,542.3 Q659.35,544.8 659.85,553.8" stroke-width="1.8"/>
<path d="M432.5,606.25 L507.5,581.25 L530,575 L625,565 L645,565 L650,583.75 L667.5,595 L640,598.75 L600,622.5 L561.25,637.5 L532.5,630 L436.25,608.75 Z" fill="#fdfdfd" stroke="none"/>
<path d="M432.5,606.2 C438.8,604.2 457.5,598.2 470.0,594.0 C482.5,589.8 497.5,584.4 507.5,581.2 C517.5,578.1 526.2,576.0 530.0,575.0" stroke-width="1.5" fill="none"/>
<path d="M530.0,575.0 C538.3,574.1 564.2,571.2 580.0,569.5 C595.8,567.8 614.2,565.8 625.0,565.0 C635.8,564.2 641.7,564.6 645.0,564.5" stroke-width="1.7" fill="none"/>
<path d="M531.0,577.5 C539.2,576.6 564.3,573.7 580.0,572.0 C595.7,570.3 614.3,568.3 625.0,567.5 C635.7,566.7 640.8,567.1 644.0,567.0" stroke-width="1.3" fill="none"/>
<path d="M644.0,566.2 C644.4,566.6 648.1,570.1 648.5,571.2 C648.9,572.4 648.3,579.1 648.5,580.2 C648.7,581.4 650.2,584.6 651.3,585.3 C652.4,586.0 661.7,588.3 662.0,588.7 C662.3,589.1 654.6,589.8 655.2,590.4 C655.8,591.0 667.7,595.4 668.7,596.0 C669.7,596.6 670.5,597.2 667.6,597.7 C664.7,598.2 636.7,601.3 633.9,601.6" stroke-width="1.6" fill="none"/>
<path d="M590.0,587.6 C595.0,587.2 610.4,585.8 620.0,585.0 C629.6,584.2 642.8,583.3 647.4,583.0" stroke-width="1.6" fill="none"/>
<path d="M432.5,606.2 C432.3,607.1 431.0,609.4 431.2,611.2 C431.5,613.1 432.8,616.7 433.8,617.5 C434.7,618.3 436.4,617.0 437.0,616.0 C437.6,615.0 437.0,612.5 437.5,611.2 C438.0,610.0 439.6,609.2 440.0,608.8" stroke-width="1.8" fill="none"/>
<path d="M436.2,609.0 C444.4,610.8 469.0,616.0 485.0,619.5 C501.0,623.0 519.8,627.0 532.5,630.0 C545.2,633.0 556.5,636.2 561.2,637.5" stroke-width="2.1" fill="none"/>
<path d="M440.0,611.2 C440.6,612.1 441.7,615.2 443.8,616.2 C445.8,617.3 450.2,617.7 452.5,617.5 C454.8,617.3 456.9,615.8 457.5,615.0 C458.1,614.2 456.2,612.9 456.0,612.5" stroke-width="1.8" fill="none"/>
<ellipse cx="450" cy="614.5" rx="3" ry="1.8" stroke-width="1.4"/>
<path d="M527.5,629.0 C528.1,630.6 529.4,636.9 531.2,638.8 C533.1,640.6 536.9,640.4 538.8,640.0 C540.6,639.6 542.1,637.6 542.5,636.2 C542.9,634.9 541.2,632.7 541.0,632.0" stroke-width="1.8" fill="none"/>
<ellipse cx="535" cy="636.25" rx="2.8" ry="1.6" stroke-width="1.4"/>
<path d="M457.5,600.8 L462.5,599.2" stroke-width="2.2"/>
<path d="M476.25,594.55 L481.25,592.95" stroke-width="2.2"/>
<path d="M496.25,587.05 L501.25,585.45" stroke-width="2.2"/>
<path d="M497.5,586.2 C496.9,587.1 494.0,589.8 493.8,591.5 C493.5,593.2 491.5,594.6 496.2,596.2 C501.0,597.9 514.8,599.4 522.5,601.2 C530.2,603.1 535.4,606.7 542.5,607.5 C549.6,608.3 559.2,606.9 565.0,606.2 C570.8,605.6 571.7,603.0 577.5,603.8 C583.3,604.5 592.1,609.0 600.0,611.0 C607.9,613.0 620.8,615.2 625.0,616.0" stroke-width="1.6" fill="none"/>
<path d="M522.5,601.2 C525.0,600.0 530.4,595.6 537.5,593.8 C544.6,591.9 554.6,591.0 565.0,590.0 C575.4,589.0 590.0,588.5 600.0,587.5 C610.0,586.5 620.8,584.4 625.0,583.8" stroke-width="1.6" fill="none"/>
<path d="M590.0,603.8 C591.7,603.1 594.2,601.0 600.0,600.0 C605.8,599.0 616.7,597.8 625.0,597.5 C633.3,597.2 645.8,597.9 650.0,598.0" stroke-width="1.5" fill="none"/>
<path d="M511,581 L519,578.5 Q523,583 522,588 L514,590 Q515,585 511,581 Z" stroke-width="1.6" fill="#fdfdfd"/>
<path d="M523,578 L532,576 Q537,580 536,585 L527,587 Q528,582 523,578 Z" stroke-width="1.6" fill="#fdfdfd"/>
<path d="M559.4,637.3 L574.25,631.6 L625,617.6 L611,622 Q615.4,626 615.4,630 Q615.4,635 611,638.6 L600.5,641 L600.5,650 Q600,652 597.9,652.6 L576.9,657.9 L572.5,658.75 Q566,657 563.5,653 Q562.5,645 559.4,637.3 Z" fill="#fdfdfd" stroke="none"/>
<path d="M555.0,636.9 C558.2,636.0 562.6,634.8 574.2,631.6 C585.9,628.4 616.5,619.9 625.0,617.6" stroke-width="2.0" fill="none"/>
<path d="M559.4,637.3 C559.7,637.8 561.5,639.3 562.0,641.2 C562.5,643.2 562.3,649.6 562.9,651.8 C563.5,653.9 565.1,656.1 566.4,657.0 C567.7,657.9 571.1,658.6 572.5,658.8 C573.9,658.9 576.3,658.0 576.9,657.9" stroke-width="2.0" fill="none"/>
<path d="M569.0,636.0 C569.3,637.0 570.4,639.7 571.0,642.0 C571.6,644.3 571.8,647.7 572.5,650.0 C573.2,652.3 575.0,655.0 575.5,656.0" stroke-width="1.6" fill="none"/>
<path d="M576.9,648.25 L598.75,642.1 Q600.5,642.5 600.5,644 L600.5,650 Q600,652 597.9,652.6 L576.9,657.9" stroke-width="1.9"/>
<path d="M580.4,645.6 C584.5,644.7 606.3,640.3 611.0,638.6 C615.7,636.9 614.8,633.9 615.4,632.5 C616.0,631.1 616.0,629.5 615.4,628.1 C614.8,626.7 611.6,622.8 611.0,622.0" stroke-width="1.9" fill="none"/>
<path d="M580,636.9 L580.4,645.6" stroke-width="1.6"/>
<path d="M575,633.5 L583.5,631.3 L585.5,635.5 L577,637.8 Z" stroke-width="1.5" fill="#fdfdfd"/>
<path d="M597,624.5 L604,622.8" stroke-width="2.6"/>
<path d="M575,630.8 L581,629.2" stroke-width="2.6"/>
<path d="M601.2,601.6 C604.6,601.2 616.1,599.4 621.5,599.4 C626.9,599.4 628.6,600.3 633.9,601.6 C639.1,602.9 649.8,606.3 653.0,607.2" stroke-width="1.6" fill="none"/>
<path d="M590.0,606.1 L601.2,601.6" stroke-width="1.6" fill="none"/>
<path d="M590.0,606.1 C593.0,607.0 603.1,610.4 608.0,611.8 C612.9,613.1 614.6,613.6 619.2,614.0 C623.9,614.4 633.2,614.0 636.0,614.0" stroke-width="1.6" fill="none"/>
<path d="M653.0,607.2 C655.8,607.1 658.8,606.9 670.0,606.1 C681.2,605.3 703.7,603.7 720.0,602.5 C736.3,601.3 759.7,599.4 767.6,598.8" stroke-width="1.9" fill="none"/>
<path d="M656.0,609.5 C658.3,609.2 659.3,608.8 670.0,608.0 C680.7,607.2 704.0,605.7 720.0,604.5 C736.0,603.3 758.3,601.6 766.0,601.0" stroke-width="1.2" fill="none"/>
<path d="M590.0,627.5 C593.4,626.5 602.8,623.2 610.2,621.3 C617.8,619.4 630.9,617.1 635.0,616.2" stroke-width="1.7" fill="none"/>
<path d="M642.9,628.6 C649.1,627.1 667.4,621.5 680.0,619.6 C692.6,617.8 712.3,617.9 718.8,617.5" stroke-width="1.7" fill="none"/>
<path d="M718.8,618.5 C722.3,618.1 733.5,616.8 740.0,616.2 C746.5,615.7 754.6,615.5 757.5,615.3" stroke-width="1.7" fill="none"/>
<path d="M635.0,616.2 C635.4,616.8 636.7,617.7 637.2,619.6 C637.8,621.5 637.5,626.0 638.4,627.5 C639.3,629.0 642.1,628.4 642.9,628.6" stroke-width="1.8" fill="none"/>
<path d="M641,612.5 L650,610 L653,617 L644,619.5 Z" stroke-width="2" fill="#fdfdfd"/>
<path d="M654,608.5 L663,607 L666.5,614 L657,616 Z" stroke-width="2" fill="#fdfdfd"/>
<path d="M610.2,621.3 C610.7,622.1 612.2,624.2 613.0,626.0 C613.8,627.8 614.8,630.1 615.0,632.0 C615.2,633.9 614.3,636.7 614.2,637.6" stroke-width="1.7" fill="none"/>
<path d="M599,624.5 L603.5,623.5" stroke-width="2.4"/>
<path d="M687.5,607.5 L698,605.5 L697.5,617.5 L715,616.25 Q718,616 718.75,618.75 L718.75,621 Q719,624 717.5,625 L692.5,628.1 Q684,626 683.75,625 Q681.5,621 682.5,620 Z" fill="#fdfdfd" stroke="none"/>
<path d="M687.5,607.5 C687.1,608.4 685.2,612.3 684.5,614.0 C683.8,615.7 682.6,618.5 682.5,620.0 C682.4,621.5 682.4,623.9 683.8,625.0 C685.1,626.1 691.3,627.7 692.5,628.1" stroke-width="1.9" fill="none"/>
<path d="M692.5,628.1 L717.5,625 Q719,624 718.75,621 L718.75,618.75 Q718,616 715,616.25 L697.5,617.5" stroke-width="1.9"/>
<path d="M688.8,608.8 C689.2,610.6 690.5,616.9 691.2,620.0 C692.0,623.1 692.7,626.2 693.0,627.5" stroke-width="1.5" fill="none"/>
<path d="M695.0,608.8 C695.2,609.8 696.2,612.8 696.2,615.0 C696.3,617.2 695.8,620.0 695.5,622.0 C695.2,624.0 694.7,626.2 694.5,627.0" stroke-width="1.8" fill="none"/>
<path d="M688.5,607 L697.5,605.3 L700.5,608.3 L691,610 Z" stroke-width="1.5" fill="#fdfdfd"/>
<path d="M764,602.75 L770,598.6 L775.25,599 Q782,603 783.1,609.9 L794,610.25 Q795.9,610.5 795.9,612.5 L795.5,618.5 Q795,620.5 793.25,620.75 L770.75,623 L762.5,623 Q757,620 757.25,615.5 L764.75,615.1 Z" fill="#fdfdfd" stroke="none"/>
<path d="M770.0,598.6 C770.7,598.7 773.9,598.4 775.2,599.0 C776.6,599.6 779.5,601.8 780.5,602.8 C781.5,603.8 782.4,605.5 782.8,606.5 C783.1,607.5 783.1,609.4 783.1,609.9" stroke-width="1.9" fill="none"/>
<path d="M757.2,615.5 C757.5,616.1 758.0,619.0 758.8,620.0 C759.5,621.0 760.9,622.6 762.5,623.0 C764.1,623.4 769.6,623.0 770.8,623.0" stroke-width="1.9" fill="none"/>
<path d="M764.0,602.8 C764.2,603.5 765.0,605.5 765.5,607.5 C766.0,609.5 766.2,612.4 767.0,614.8 C767.8,617.1 769.5,620.4 770.0,621.5" stroke-width="1.9" fill="none"/>
<path d="M771.5,611.75 L794,610.25 Q795.9,610.5 795.9,612.5 L795.5,618.5 Q795,620.5 793.25,620.75 L770.75,623" stroke-width="1.9"/>
<path d="M771.5,617.75 L794,617" stroke-width="1.5"/>
<path d="M769.5,603.5 C770.1,604.1 772.5,605.6 773.0,607.0 C773.5,608.4 773.0,609.9 772.5,611.8 C772.0,613.6 770.4,617.0 770.0,618.0" stroke-width="1.8" fill="none"/>
<path d="M769,601.2 L776,600 L778.5,603 L772,604.5 Z" stroke-width="1.5" fill="#fdfdfd"/>
<path d="M38.1,335.75 L54.6,351.1" stroke-width="1.5"/>
<path d="M88,408.5 L106,415.5" stroke-width="1.5"/>
<path d="M120,434 L113,445" stroke-width="1.5"/>
<path d="M87.5,464 L105,474" stroke-width="1.5"/>
<path d="M159,447.5 L172.5,455" stroke-width="1.5"/>
<path d="M159.7,332.9 L170.4,337" stroke-width="1.5"/>
<path d="M155.5,355.2 L180,348.8" stroke-width="1.5"/>
<path d="M468,187.5 L483.8,179.6" stroke-width="1.5"/>
<path d="M389.3,211 L399.4,212.3" stroke-width="1.5"/>
<path d="M552.5,215 L542.5,223.75" stroke-width="1.5"/>
<path d="M577.5,222.5 L568.75,230" stroke-width="1.5"/>
<path d="M590,232.5 L578.75,237.5" stroke-width="1.5"/>
<path d="M560,257.5 L565,264" stroke-width="1.5"/>
<path d="M524,277 L544,286" stroke-width="1.5"/>
<path d="M517.5,297 L542.5,306" stroke-width="1.5"/>
<path d="M493,309 L518.5,317" stroke-width="1.5"/>
<path d="M528.5,319 L549,327" stroke-width="1.5"/>
<path d="M474,331 L494,330" stroke-width="1.5"/>
<path d="M501,357.5 L512.5,337.5" stroke-width="1.5"/>
<path d="M429.8,318.5 L422.5,325" stroke-width="1.5"/>
<path d="M429,354.2 L422.5,367.2" stroke-width="1.5"/>
<path d="M440.4,388.4 L428.2,395.7" stroke-width="1.5"/>
<path d="M524.9,400.7 L510.8,406.3" stroke-width="1.5"/>
<path d="M533.3,420.4 L517,428.2" stroke-width="1.5"/>
<path d="M529.4,453 L518.1,457.5" stroke-width="1.5"/>
<path d="M158.7,551.9 L174.6,558.2" stroke-width="1.5"/>
<path d="M191.6,577.4 L182,590.1" stroke-width="1.5"/>
<path d="M150.2,601.8 L169.3,613.5" stroke-width="1.5"/>
<path d="M388.7,563.7 L394.7,583.2" stroke-width="1.5"/>
<path d="M445,551 L448.75,566" stroke-width="1.5"/>
<path d="M511,537.5 L522.5,546" stroke-width="1.5"/>
<path d="M577.5,540 L568.75,550" stroke-width="1.5"/>
<path d="M666,535 L654,544" stroke-width="1.5"/>
<path d="M716,635 L700,627.5" stroke-width="1.5"/>
<path d="M195.25,272.5 L164.6,300.5" stroke-width="1.5"/>
<path d="M195.25,272.5 L187.4,285" stroke-width="1.5"/>
<path d="M195.25,272.5 L190,306" stroke-width="1.5"/>
<path d="M195.25,272.5 L207.5,294.4" stroke-width="1.5"/>
<path d="M425,148.5 L405,164" stroke-width="1.5"/>
<path d="M425,148.5 L413,154" stroke-width="1.5"/>
<path d="M425,148.5 L421,165" stroke-width="1.5"/>
<path d="M425,148.5 L439,153" stroke-width="1.5"/>
<path d="M425,148.5 L446,167" stroke-width="1.5"/>
<path d="M425,148.5 L454,164" stroke-width="1.5"/>
<g stroke-width="1.8">
<path d="M5.5,664.5 L26.5,643.5 L30,645.5 L30,647 L49,639.5 L53,641.5 L53.5,654 L30,663 L30,670 L9,665.5 Z" fill="#fdfdfd"/>
<path d="M9,665.5 L30,645.5" stroke-width="1.6"/>
<path d="M30,647 L32,649 L53,641.5" stroke-width="1.4"/>
</g>
<text transform="translate(26.5,663.5) skewY(-20) scale(0.62,1)" font-size="15.5" font-weight="bold" font-family="Liberation Serif" fill="#111" stroke="#111" stroke-width="0.3">FWD</text>
<path d="M567.5,560 L567.5,615 L535,615 L535,632" stroke-width="1.1" stroke-dasharray="16 2.5 1 2.5" stroke-linecap="butt" stroke="#333"/>
<path d="M450,577.5 L450,612" stroke-width="1.1" stroke-dasharray="16 2.5 1 2.5" stroke-linecap="butt" stroke="#333"/>
</g>
<g>
<text transform="translate(17.60,342.49) scale(0.75,1)" font-size="21.2" letter-spacing="2.4">13</text>
<text transform="translate(81.65,414.39) scale(0.75,1)" font-size="21.2" letter-spacing="2.4">4</text>
<text transform="translate(119.68,437.39) scale(0.75,1)" font-size="21.2" letter-spacing="2.4">2</text>
<text transform="translate(71.17,465.78) scale(0.75,1)" font-size="21.2" letter-spacing="2.4">16</text>
<text transform="translate(138.16,452.10) scale(0.75,1)" font-size="21.2" letter-spacing="2.4">12</text>
<text transform="translate(191.95,277.04) scale(0.75,1)" font-size="21.2" letter-spacing="2.4">19</text>
<text transform="translate(141.95,343.38) scale(0.75,1)" font-size="21.2" letter-spacing="2.4">18</text>
<text transform="translate(140.32,375.50) scale(0.75,1)" font-size="21.2" letter-spacing="2.4">17</text>
<text transform="translate(421.70,143.68) scale(0.75,1)" font-size="21.2" letter-spacing="2.4">6</text>
<text transform="translate(484.56,188.14) scale(0.75,1)" font-size="21.2" letter-spacing="2.4">7</text>
<text transform="translate(381.77,220.68) scale(0.75,1)" font-size="21.2" letter-spacing="2.4">5</text>
<text transform="translate(554.15,218.55) scale(0.75,1)" font-size="21.2" letter-spacing="2.4">8</text>
<text transform="translate(576.60,223.78) scale(0.75,1)" font-size="21.2" letter-spacing="2.4">9</text>
<text transform="translate(589.98,240.00) scale(0.75,1)" font-size="21.2" letter-spacing="2.4">11</text>
<text transform="translate(552.77,259.18) scale(0.75,1)" font-size="21.2" letter-spacing="2.4">8</text>
<text transform="translate(515.48,278.68) scale(0.75,1)" font-size="21.2" letter-spacing="2.4">20</text>
<text transform="translate(508.31,298.85) scale(0.75,1)" font-size="21.2" letter-spacing="2.4">21</text>
<text transform="translate(520.52,326.68) scale(0.75,1)" font-size="21.2" letter-spacing="2.4">8</text>
<text transform="translate(464.85,342.53) scale(0.75,1)" font-size="21.2" letter-spacing="2.4">9</text>
<text transform="translate(488.23,374.00) scale(0.75,1)" font-size="21.2" letter-spacing="2.4">11</text>
<text transform="translate(429.02,319.39) scale(0.75,1)" font-size="21.2" letter-spacing="2.4">4</text>
<text transform="translate(429.18,357.49) scale(0.75,1)" font-size="21.2" letter-spacing="2.4">2</text>
<text transform="translate(443.30,394.78) scale(0.75,1)" font-size="21.2" letter-spacing="2.4">3</text>
<text transform="translate(527.62,413.19) scale(0.75,1)" font-size="21.2" letter-spacing="2.4">4</text>
<text transform="translate(535.68,430.94) scale(0.75,1)" font-size="21.2" letter-spacing="2.4">2</text>
<text transform="translate(532.05,458.03) scale(0.75,1)" font-size="21.2" letter-spacing="2.4">3</text>
<text transform="translate(150.97,557.14) scale(0.75,1)" font-size="21.2" letter-spacing="2.4">4</text>
<text transform="translate(188.33,578.94) scale(0.75,1)" font-size="21.2" letter-spacing="2.4">2</text>
<text transform="translate(133.92,604.88) scale(0.75,1)" font-size="21.2" letter-spacing="2.4">16</text>
<text transform="translate(387.00,603.89) scale(0.75,1)" font-size="21.2" letter-spacing="2.4">13</text>
<text transform="translate(431.38,548.78) scale(0.75,1)" font-size="21.2" letter-spacing="2.4">10</text>
<text transform="translate(497.59,535.00) scale(0.75,1)" font-size="21.2" letter-spacing="2.4">14</text>
<text transform="translate(574.50,544.78) scale(0.75,1)" font-size="21.2" letter-spacing="2.4">10</text>
<text transform="translate(666.22,546.25) scale(0.75,1)" font-size="21.2" letter-spacing="2.4">14</text>
<text transform="translate(717.00,653.39) scale(0.75,1)" font-size="21.2" letter-spacing="2.4">15</text>
</g>
</svg></body></html>
